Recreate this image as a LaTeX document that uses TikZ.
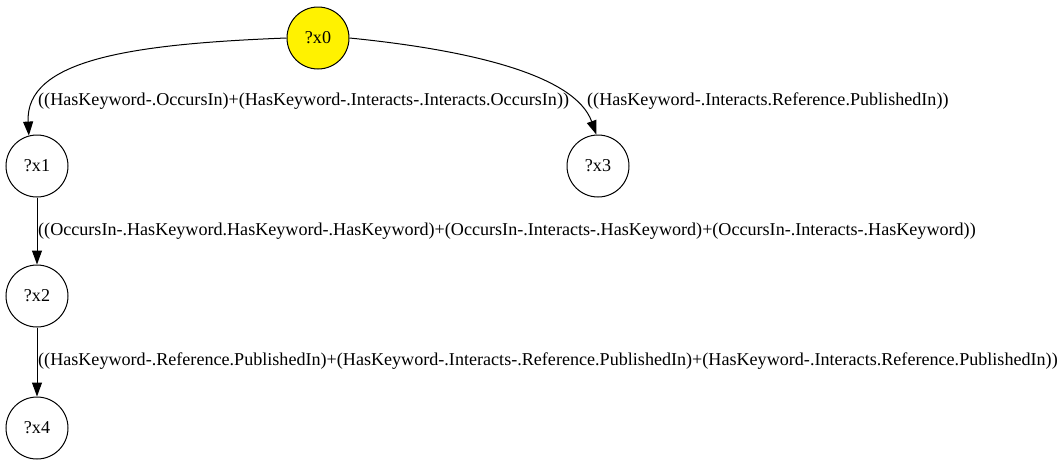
\documentclass[tikz,border=0pt]{standalone}
\usepackage{fontspec}
\setmainfont{Liberation Serif}
\usetikzlibrary{arrows.meta}
\begin{document}
\begin{tikzpicture}[x=1pt,y=-1pt,
  var/.style={circle,draw,line width=1pt,minimum size=62pt,inner sep=0pt,font=\fontsize{18.1}{21}\selectfont},
  lbl/.style={anchor=west,inner sep=0pt,font=\fontsize{18.1}{21}\selectfont},
  edge/.style={line width=1pt,-{Triangle[length=14pt,width=10pt]}}]
\useasboundingbox (0,0) rectangle (1063,464);
\node[var,fill=yellow] (x0) at (318,38) {?x0};
\node[var] (x1) at (37,166) {?x1};
\node[var] (x3) at (598,166) {?x3};
\node[var] (x2) at (37,296) {?x2};
\node[var] (x4) at (37,428) {?x4};
\node[lbl] (l1) at (38,101) {((HasKeyword-.OccursIn)+(HasKeyword-.Interacts-.Interacts.OccursIn))};
\node[lbl] (l3) at (587,101) {((HasKeyword-.Interacts.Reference.PublishedIn))};
\node[lbl] (l2) at (38,231) {((OccursIn-.HasKeyword.HasKeyword-.HasKeyword)+(OccursIn-.Interacts-.HasKeyword)+(OccursIn-.Interacts-.HasKeyword))};
\node[lbl] (l4) at (38,361) {((HasKeyword-.Reference.PublishedIn)+(HasKeyword-.Interacts-.Reference.PublishedIn)+(HasKeyword-.Interacts.Reference.PublishedIn))};
\draw[edge] (x0.west) .. controls (130,44) and (25,60) .. (x1.105);
\draw[edge] (x0.east) .. controls (470,50) and (575,75) .. (x3.93);
\draw[edge] (x1) -- (x2);
\draw[edge] (x2) -- (x4);
\end{tikzpicture}
\end{document}
